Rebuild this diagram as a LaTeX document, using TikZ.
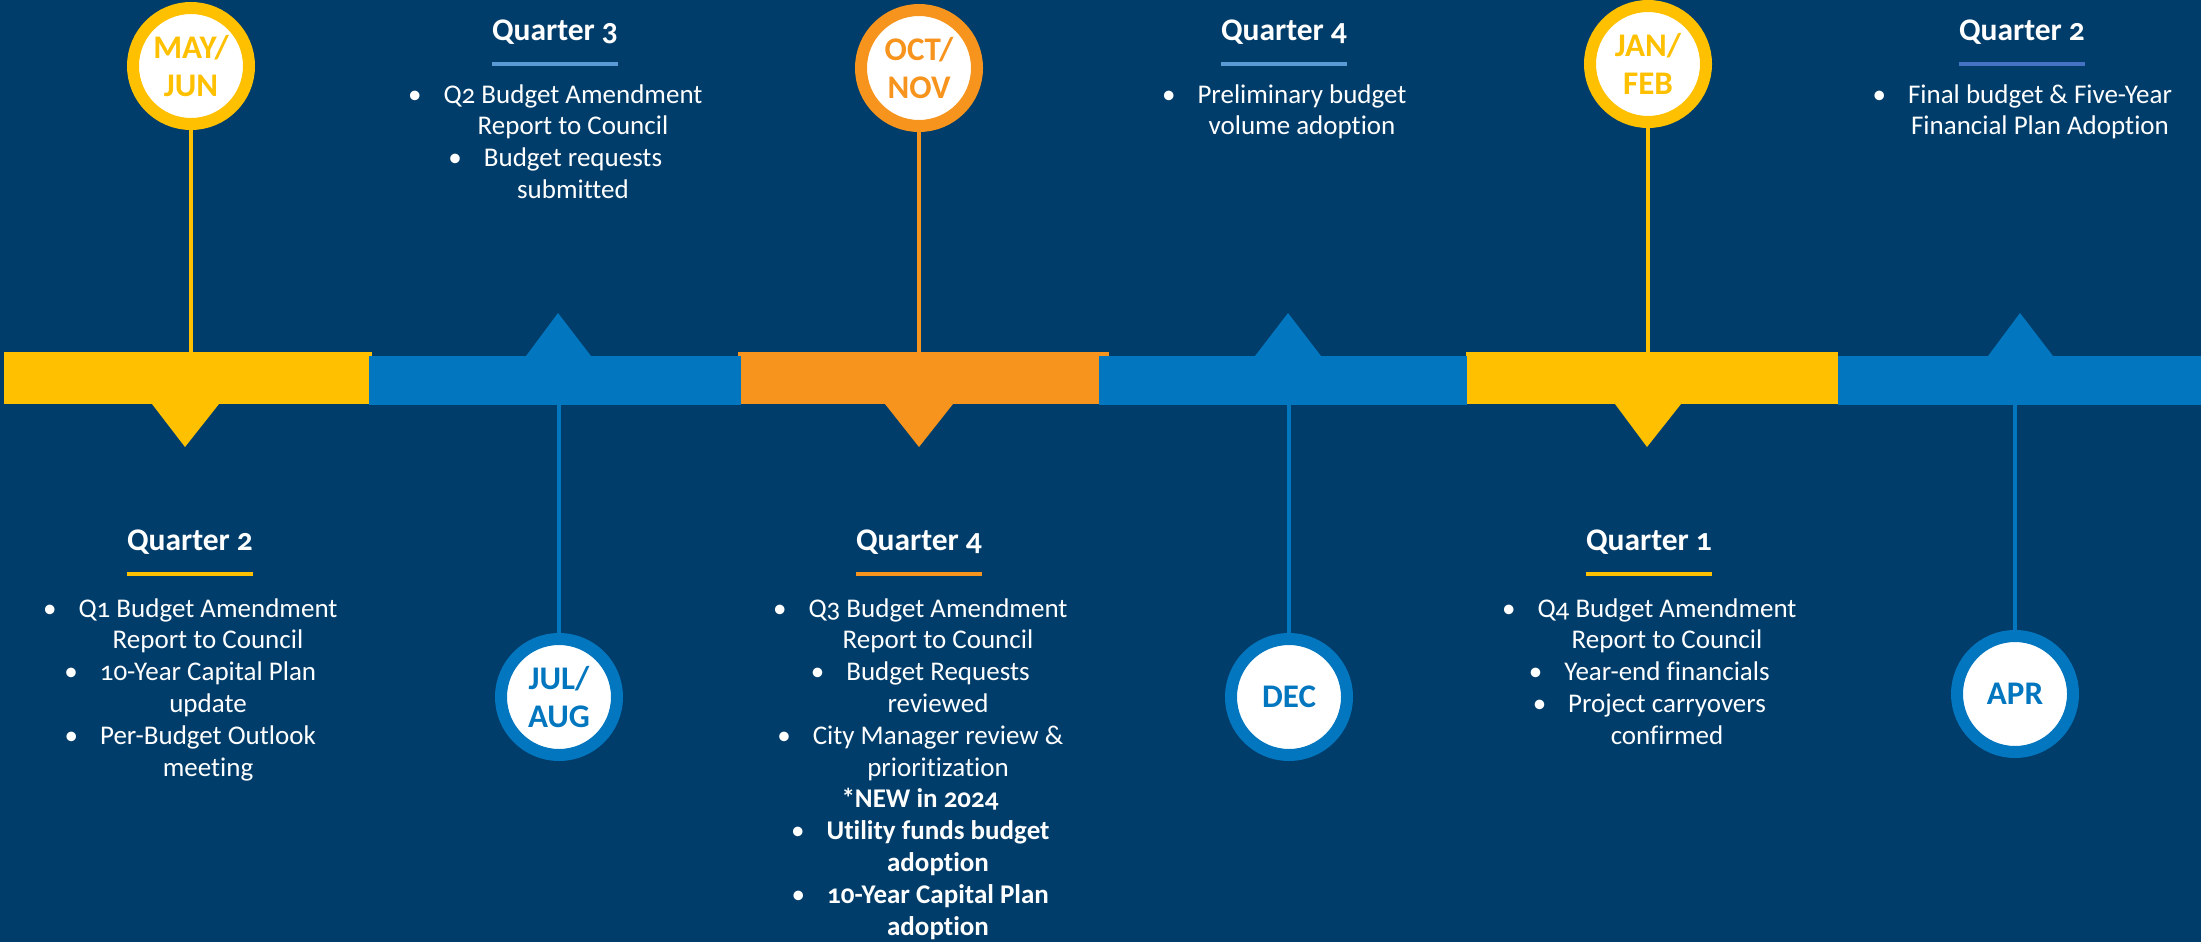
\documentclass[tikz,border=0pt]{standalone}
\usepackage{fontspec}
\setmainfont{Carlito}[Numbers=OldStyle, Ligatures=NoCommon]

\definecolor{navy}{RGB}{0,61,106}
\definecolor{sunyellow}{RGB}{255,192,0}
\definecolor{tangerine}{RGB}{247,148,29}
\definecolor{barblue}{RGB}{2,118,190}
\definecolor{ruleblue}{RGB}{91,155,213}
\definecolor{ruledark}{RGB}{68,114,196}

% hanging bullet in front of a centred line
\newcommand{\bul}{\llap{\textbullet\hspace{11pt}}}

\begin{document}
\begin{tikzpicture}[x = 0.5pt, y = -0.5pt,
    seg/.style = {inner sep = 0pt, outer sep = 0pt, anchor = north west},
    month/.style = {circle, draw = #1, text = #1, fill = white, line width = 6pt,
        minimum size = 58pt, inner sep = 0pt, align = center,
        font = \bfseries\fontsize{16.5}{19}\selectfont},
    stem/.style = {draw = #1, line width = 2pt},
    qtitle/.style = {text = white, inner sep = 0pt, anchor = base,
        font = \bfseries\fontsize{15.75}{19}\selectfont},
    uline/.style = {draw = #1, line width = 2pt},
    notes/.style = {text = white, inner sep = 0pt, anchor = north, align = center,
        font = \fontsize{13.5}{15.9}\selectfont}]
        \useasboundingbox (0,0) rectangle (2201,942);
        \fill[navy] (0,0) rectangle (2201,942);
        
        % the bar
        \node[seg, fill = sunyellow, minimum width = 184pt, minimum height = 26pt] (seg1) at (4,352) {};
        \node[seg, fill = tangerine, minimum width = 185.5pt, minimum height = 26pt] (seg3) at (738,352) {};
        \node[seg, fill = sunyellow, minimum width = 186pt, minimum height = 26pt] (seg5) at (1466,352) {};
        \node[seg, fill = barblue, minimum width = 186pt, minimum height = 24.5pt] (seg2) at (369,356) {};
        \node[seg, fill = barblue, minimum width = 184pt, minimum height = 24.5pt] (seg4) at (1099,356) {};
        \node[seg, fill = barblue, minimum width = 181.5pt, minimum height = 24.5pt] (seg6) at (1838,356) {};
        
        % pointers
        \fill[sunyellow] (152,404) -- (219,404) -- (185,447) -- cycle;
        \fill[tangerine] (885,404) -- (953,404) -- (919,447) -- cycle;
        \fill[sunyellow] (1615,404) -- (1681,404) -- (1647,447) -- cycle;
        \fill[barblue] (526,356) -- (591,356) -- (558,313) -- cycle;
        \fill[barblue] (1255,356) -- (1321,356) -- (1288,313) -- cycle;
        \fill[barblue] (1988,356) -- (2053,356) -- (2020,313) -- cycle;
        
        % months
        \node[month = sunyellow] (mayjun) at (191,66) {MAY/\\JUN};
        \node[month = tangerine] (octnov) at (919,68) {OCT/\\NOV};
        \node[month = sunyellow] (janfeb) at (1648,64) {JAN/\\FEB};
        \node[month = barblue] (julaug) at (559,697) {JUL/\\AUG};
        \node[month = barblue] (dec) at (1289,697) {DEC};
        \node[month = barblue] (apr) at (2015,694) {APR};
        
        \draw[stem = sunyellow] (mayjun.south) -- (mayjun.south |- seg1.north);
        \draw[stem = tangerine] (octnov.south) -- (octnov.south |- seg3.north);
        \draw[stem = sunyellow] (janfeb.south) -- (janfeb.south |- seg5.north);
        \draw[stem = barblue] (julaug.north) -- (julaug.north |- seg2.south);
        \draw[stem = barblue] (dec.north) -- (dec.north |- seg4.south);
        \draw[stem = barblue] (apr.north) -- (apr.north |- seg6.south);
        
        % quarters above the bar
        \node[qtitle] (q3) at (555,40) {Quarter 3};
        \node[qtitle] (q4a) at (1284,40) {Quarter 4};
        \node[qtitle] (q2a) at (2022,40) {Quarter 2};
        \draw[uline = ruleblue] ([yshift=-12pt]q3.base west) -- ([yshift=-12pt]q3.base east);
        \draw[uline = ruleblue] ([yshift=-12pt]q4a.base west) -- ([yshift=-12pt]q4a.base east);
        \draw[uline = ruledark] ([yshift=-12pt]q2a.base west) -- ([yshift=-12pt]q2a.base east);
        
        \node[notes] (n3) at (573,84) {\bul Q2 Budget Amendment\\Report to Council\\
            \bul Budget requests\\submitted};
        \node[notes] (n4a) at (1302,84) {\bul Preliminary budget\\volume adoption};
        \node[notes] (n2a) at (2040,84) {\bul Final budget \& Five-Year\\Financial Plan Adoption};
        
        % quarters below the bar
        \node[qtitle] (q2) at (190,550) {Quarter 2};
        \node[qtitle] (q4) at (919,550) {Quarter 4};
        \node[qtitle] (q1) at (1649,550) {Quarter 1};
        \draw[uline = sunyellow] ([yshift=-12pt]q2.base west) -- ([yshift=-12pt]q2.base east);
        \draw[uline = tangerine] ([yshift=-12pt]q4.base west) -- ([yshift=-12pt]q4.base east);
        \draw[uline = sunyellow] ([yshift=-12pt]q1.base west) -- ([yshift=-12pt]q1.base east);
        
        \node[notes] (n2) at (208,598) {\bul Q1 Budget Amendment\\Report to Council\\
            \bul 10-Year Capital Plan\\update\\
            \bul Per-Budget Outlook\\meeting};
        \node[notes] (n4) at (938,598) {\bul Q3 Budget Amendment\\Report to Council\\
            \bul Budget Requests\\reviewed\\
            \bul City Manager review \&\\prioritization\\
            \hspace*{-18pt}\textbf{*NEW in 2024}\\
            \bul\textbf{Utility funds budget}\\\textbf{adoption}\\
            \bul\textbf{10-Year Capital Plan}\\\textbf{adoption}};
        \node[notes] (n1) at (1667,598) {\bul Q4 Budget Amendment\\Report to Council\\
            \bul Year-end financials\\
            \bul Project carryovers\\confirmed};
    \end{tikzpicture}
\end{document}
